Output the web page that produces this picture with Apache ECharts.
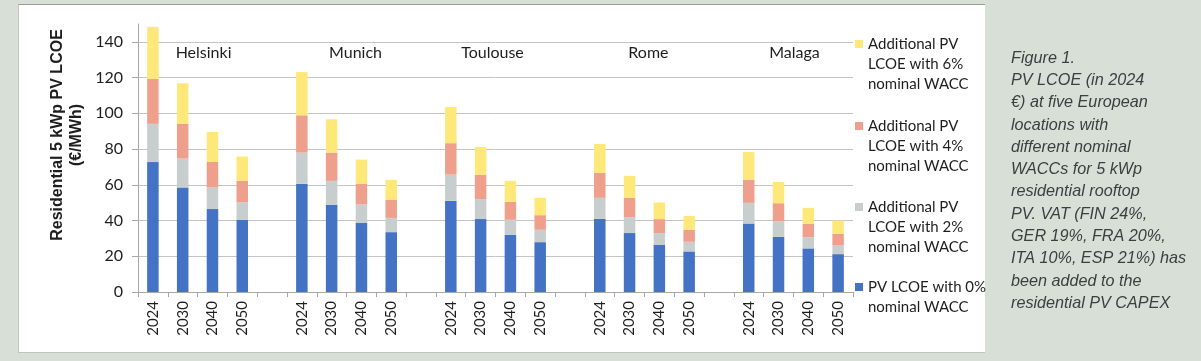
<!DOCTYPE html>
<html>
<head>
<meta charset="utf-8">
<script src="https://cdn.jsdelivr.net/npm/echarts@6/dist/echarts.min.js"></script>
<style>
  html, body { margin: 0; padding: 0; }
  body { width: 1201px; height: 361px; background: #d8dfd6; position: relative; overflow: hidden; }
  #panel { position: absolute; left: 18px; top: 4px; width: 966px; height: 347px; background: #ffffff;
           border-top: 1px solid #9a9a9a; border-left: 1px solid #c4c4c4; border-bottom: 1px solid #bfc4bf; }
  #chart { position: absolute; left: 0; top: 0; width: 1201px; height: 361px; }
</style>
</head>
<body>
<div id="panel"></div>
<div id="chart"></div>
<script>
// ---- data ----
const cities = ['Helsinki', 'Munich', 'Toulouse', 'Rome', 'Malaga'];
const years = ['2024', '2030', '2040', '2050'];
const yTicks = [0, 20, 40, 60, 80, 100, 120, 140];
// PV LCOE with 0% nominal WACC (€/MWh), per city x year
const wacc0 = [72.7, 58.5, 46.4, 40.4,  60.5, 48.8, 38.6, 33.5,  51.0, 40.8, 32.0, 27.9,  41.0, 33.0, 26.3, 22.7,  38.3, 30.9, 24.4, 21.2];
// Additional LCOE with 2% nominal WACC
const add2 = [21.4, 16.2, 12.1, 9.9,  17.5, 13.4, 10.4, 8.0,  14.7, 11.2, 8.4, 6.9,  11.7, 8.9, 6.7, 5.4,  11.6, 8.6, 6.3, 5.1];
// Additional LCOE with 4% nominal WACC
const add4 = [25.1, 19.4, 14.3, 11.9,  20.9, 15.8, 11.5, 10.1,  17.6, 13.6, 10.1, 8.2,  14.0, 10.8, 7.8, 6.7,  13.0, 10.2, 7.6, 6.3];
// Additional LCOE with 6% nominal WACC
const add6 = [29.2, 22.7, 16.8, 13.6,  24.2, 18.7, 13.6, 11.2,  20.3, 15.6, 11.7, 9.7,  16.2, 12.3, 9.3, 7.8,  15.5, 11.9, 8.8, 7.4];
const seriesNames = [
  'PV LCOE with 0%\nnominal WACC',
  'Additional PV\nLCOE with 2%\nnominal WACC',
  'Additional PV\nLCOE with 4%\nnominal WACC',
  'Additional PV\nLCOE with 6%\nnominal WACC'
];
const captionLines = [
  'Figure 1.', 'PV LCOE (in 2024', '€) at five European', 'locations with', 'different nominal',
  'WACCs for 5 kWp', 'residential rooftop', 'PV. VAT (FIN 24%,', 'GER 19%, FRA 20%,',
  'ITA 10%, ESP 21%) has', 'been added to the', 'residential PV CAPEX'
];
const yTitle = 'Residential 5 kWp PV LCOE\n(€/MWh)';

// ---- build categories with a blank slot between city groups ----
const categories = [];
cities.forEach((c, ci) => {
  years.forEach(y => categories.push(c + '|' + y));
  if (ci < cities.length - 1) categories.push('gap' + ci + '|');
});
function expand(arr) {
  const out = [];
  let k = 0;
  categories.forEach(cat => {
    if (cat.startsWith('gap')) out.push('-');
    else out.push(arr[k++]);
  });
  return out;
}

// ---- style ----
const colors = ['#4472C4', '#C8CECE', '#EFA08D', '#FFE87A'];
const FONT = 'Lato, "Open Sans", sans-serif';
const legendTops = [257, 157, 76, -6];
const cityLabelShift = [6, 9, -3, 4, 1];

const chart = echarts.init(document.getElementById('chart'), null, { renderer: 'canvas' });

// leading blank lines keep the marker level with the first text line
function legendText(name) {
  const n = name.split('\n').length;
  return '\n'.repeat(n - 1) + name;
}

const seriesData = [wacc0, add2, add4, add6];
const option = {
  animation: false,
  textStyle: { fontFamily: FONT },
  color: colors,
  grid: { left: 138, top: 24, width: 715, height: 268, containLabel: false },
  xAxis: {
    type: 'category',
    data: categories,
    boundaryGap: true,
    axisLine: { lineStyle: { color: '#a8a8a8', width: 1 } },
    axisTick: { show: true, interval: 0, alignWithLabel: false, length: 5, lineStyle: { color: '#a8a8a8' } },
    axisLabel: {
      interval: 0, rotate: 90, margin: 9, color: '#1e1e1e', fontSize: 15, fontFamily: FONT,
      formatter: v => v.split('|')[1]
    },
    splitLine: { show: false }
  },
  yAxis: {
    type: 'value',
    min: 0, max: 150, interval: 20,
    axisLine: { show: true, lineStyle: { color: '#a8a8a8', width: 1 } },
    axisTick: { show: true, length: 6, lineStyle: { color: '#a8a8a8' }, customValues: yTicks },
    axisLabel: { color: '#1e1e1e', fontSize: 16, fontFamily: FONT, margin: 15, customValues: yTicks },
    splitLine: { show: true, lineStyle: { color: '#c4c4c4', width: 1 } }
  },
  legend: seriesNames.map((n, i) => ({
    data: [n],
    orient: 'vertical',
    left: 855,
    top: legendTops[i],
    padding: 0,
    itemWidth: 8,
    itemHeight: 8,
    icon: 'rect',
    selectedMode: false,
    formatter: legendText,
    textStyle: { fontSize: 15, lineHeight: 20, color: '#1e1e1e', fontFamily: FONT }
  })),
  title: {
    text: captionLines.join('\n'),
    left: 1011,
    top: 47,
    padding: 0,
    textStyle: {
      fontFamily: '"Liberation Sans", Arial, sans-serif', fontStyle: 'italic', fontWeight: 'normal',
      fontSize: 16.2, lineHeight: 22.3, color: '#3a3f3f'
    }
  },
  series: seriesData.map((arr, i) => ({
    name: seriesNames[i],
    type: 'bar',
    stack: 'lcoe',
    barWidth: 11.5,
    data: expand(arr),
    itemStyle: { color: colors[i] },
    emphasis: { disabled: true }
  }))
};
chart.setOption(option);

// city labels centred over each group of bars, y-axis title
const graphics = cities.map((c, ci) => {
  const a = chart.convertToPixel({ xAxisIndex: 0 }, categories[ci * 5 + 1]);
  const b = chart.convertToPixel({ xAxisIndex: 0 }, categories[ci * 5 + 2]);
  const y = chart.convertToPixel({ yAxisIndex: 0 }, 134);
  return {
    type: 'text',
    x: (a + b) / 2 + cityLabelShift[ci],
    y: y,
    style: { text: c, font: '16px ' + FONT, fill: '#1e1e1e', textAlign: 'center', textVerticalAlign: 'middle' }
  };
});
graphics.push({
  type: 'text',
  x: 67, y: 135,
  rotation: Math.PI / 2,
  style: {
    text: yTitle, fontFamily: '"Liberation Sans", Arial, sans-serif', fontWeight: 'bold', fontSize: 16,
    lineHeight: 19, fill: '#1e1e1e', textAlign: 'center', textVerticalAlign: 'middle'
  }
});
chart.setOption({ graphic: graphics });
</script>
</body>
</html>
